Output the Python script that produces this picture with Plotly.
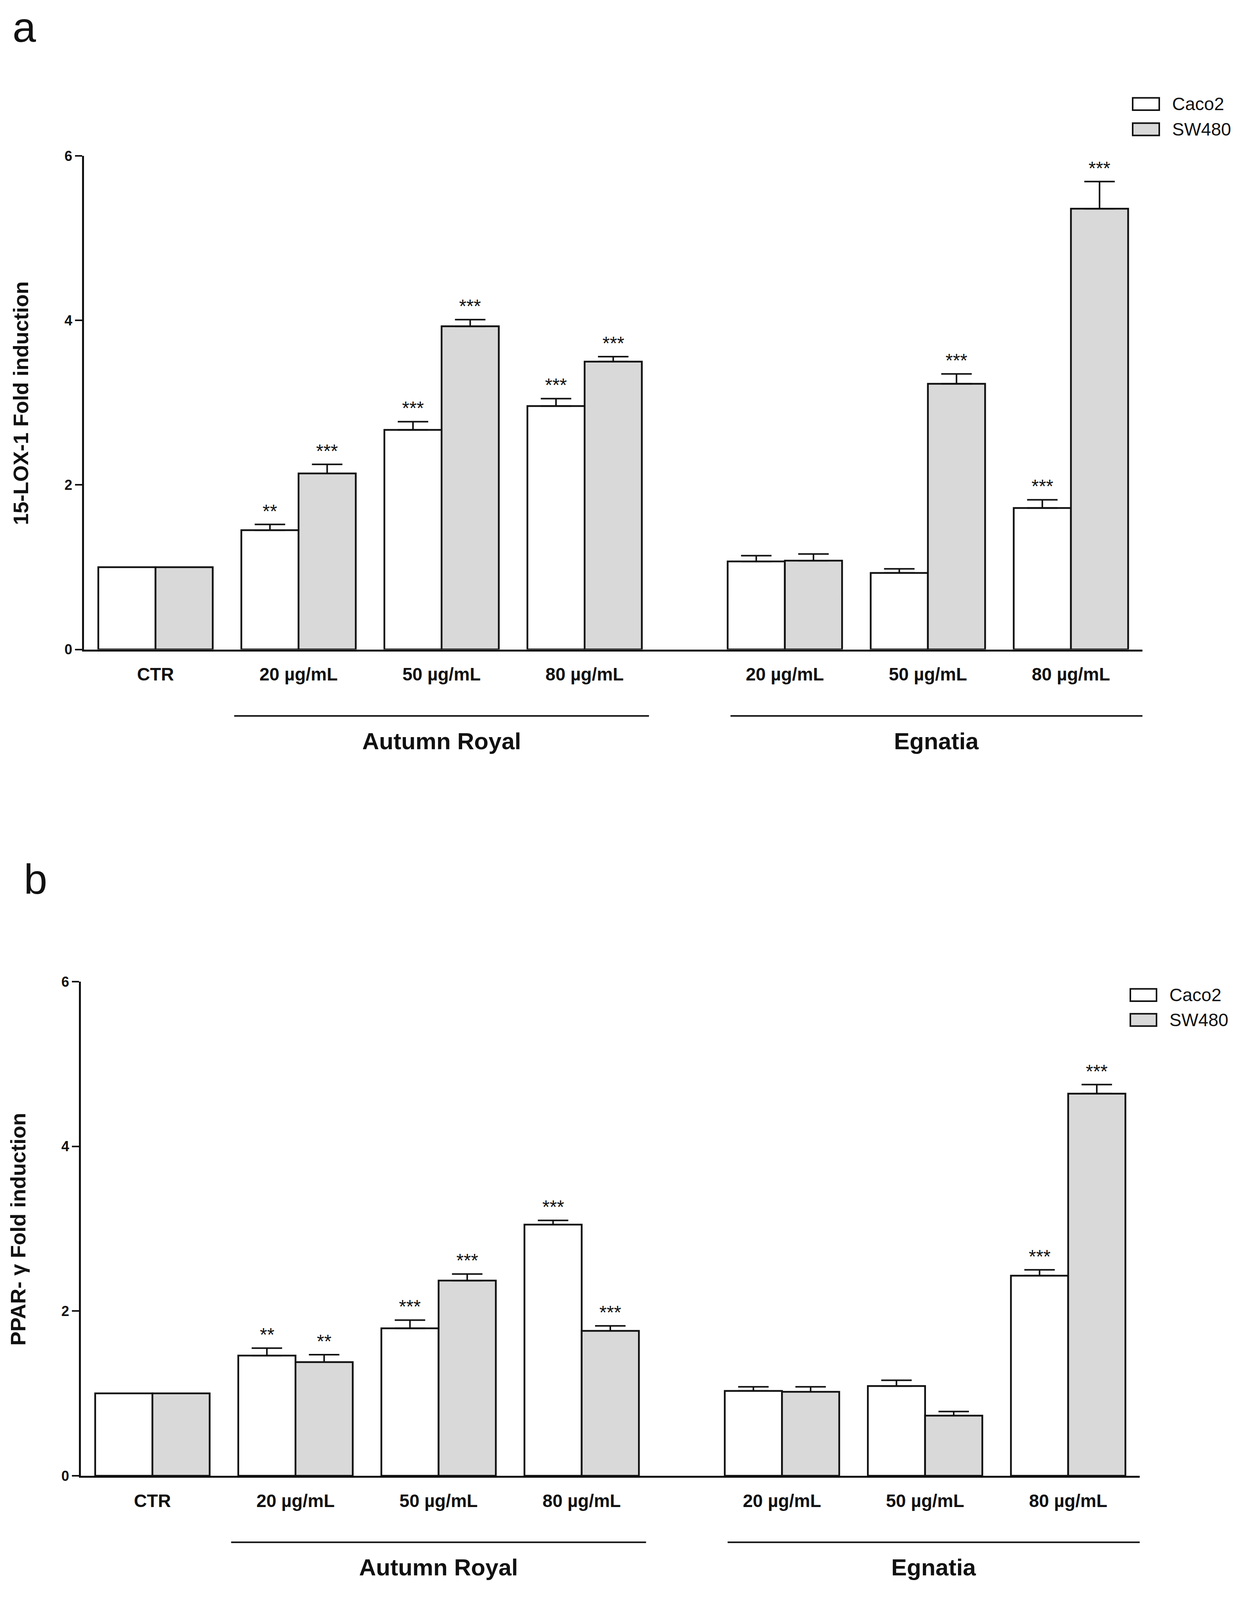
import plotly.graph_objects as go

FONT = "Liberation Sans, Arial, Helvetica, sans-serif"
W, H = 3166, 4382  # reference canvas used to express positions as fractions

# ---------------- data ----------------
categories = ["CTR", "20 µg/mL", "50 µg/mL", "80 µg/mL", "20 µg/mL", "50 µg/mL", "80 µg/mL"]
extract = ["", "Autumn Royal", "Autumn Royal", "Autumn Royal", "Egnatia", "Egnatia", "Egnatia"]
series_names = ["Caco2", "SW480"]

# Panel a: 15-LOX-1 fold induction
lox_caco2 = [1.00, 1.45, 2.67, 2.96, 1.07, 0.93, 1.72]
lox_caco2_err = [0.00, 0.07, 0.10, 0.09, 0.07, 0.05, 0.10]
lox_sw480 = [1.00, 2.14, 3.93, 3.50, 1.08, 3.23, 5.36]
lox_sw480_err = [0.00, 0.11, 0.08, 0.06, 0.08, 0.12, 0.33]
lox_caco2_sig = ["", "**", "***", "***", "", "", "***"]
lox_sw480_sig = ["", "***", "***", "***", "", "***", "***"]

# Panel b: PPAR-gamma fold induction
ppar_caco2 = [1.00, 1.46, 1.79, 3.05, 1.03, 1.09, 2.43]
ppar_caco2_err = [0.00, 0.09, 0.10, 0.05, 0.05, 0.07, 0.07]
ppar_sw480 = [1.00, 1.38, 2.37, 1.76, 1.02, 0.73, 4.64]
ppar_sw480_err = [0.00, 0.09, 0.08, 0.06, 0.06, 0.05, 0.11]
ppar_caco2_sig = ["", "**", "***", "***", "", "", "***"]
ppar_sw480_sig = ["", "**", "***", "***", "", "", "***"]

y_ticks = [0, 2, 4, 6]

# ---------------- layout helpers ----------------
GROUP_GAP = 0.4
positions = []
p = 0.0
for i, e in enumerate(extract):
    if i > 0 and extract[i - 1] != "" and e != extract[i - 1]:
        p += GROUP_GAP
    positions.append(p)
    p += 1.0

fills = ["#ffffff", "#d9d9d9"]
BAR_W = 0.4  # per-bar width in x units (bargap 0.2, 2 bars)


def px(x):
    return x / W


def py(y):
    return 1 - y / H


fig = go.Figure()

panels = [
    dict(xa="x", ya="y", vals=[lox_caco2, lox_sw480], errs=[lox_caco2_err, lox_sw480_err],
         sigs=[lox_caco2_sig, lox_sw480_sig]),
    dict(xa="x2", ya="y2", vals=[ppar_caco2, ppar_sw480], errs=[ppar_caco2_err, ppar_sw480_err],
         sigs=[ppar_caco2_sig, ppar_sw480_sig]),
]

for pi, pnl in enumerate(panels):
    for si, name in enumerate(series_names):
        fig.add_trace(go.Bar(
            x=positions, y=pnl["vals"][si], name=name,
            xaxis=pnl["xa"], yaxis=pnl["ya"],
            marker=dict(color=fills[si], line=dict(color="#111111", width=4.5)),
            error_y=dict(type="data", array=pnl["errs"][si],
                         arrayminus=[0] * len(positions), symmetric=False,
                         color="#111111", thickness=4, width=39),
            showlegend=False,
        ))
        off = (-BAR_W / 2) if si == 0 else (BAR_W / 2)
        for xi, v, e, s in zip(positions, pnl["vals"][si], pnl["errs"][si], pnl["sigs"][si]):
            if s:
                fig.add_annotation(x=xi + off, y=v + e, xref=pnl["xa"], yref=pnl["ya"],
                                   text=s, showarrow=False, yanchor="bottom", yshift=6,
                                   font=dict(family=FONT, size=48, color="#111111"))

axis_common_y = dict(range=[0, 6], tickvals=y_ticks, showgrid=False, zeroline=False,
                     showline=True, linewidth=4.5, linecolor="#111111", ticks="outside",
                     ticklen=18, tickwidth=4, tickcolor="#111111",
                     tickfont=dict(family=FONT, size=36, color="#111111", weight="bold"))
axis_common_x = dict(range=[-0.5, positions[-1] + 0.5], tickvals=positions, ticktext=categories,
                     showgrid=False, zeroline=False, showline=True, linewidth=4.5,
                     linecolor="#111111", ticks="", ticklabelstandoff=20,
                     tickfont=dict(family=FONT, size=46, color="#111111", weight="bold"))

# pixel geometry of the two panels: (axis left, axis right, y of value 0, y of value 6)
geo_a = (215, 2924, 1775, 410)
geo_b = (207, 2917, 4061, 2694)

fig.update_layout(
    autosize=True, margin=dict(l=0, r=0, t=0, b=0),
    paper_bgcolor="white", plot_bgcolor="white",
    barmode="group", bargap=0.2, bargroupgap=0.0,
    xaxis=dict(domain=[px(geo_a[0]), px(geo_a[1])], anchor="y", **axis_common_x),
    yaxis=dict(domain=[py(geo_a[2]), py(geo_a[3])], anchor="x", **axis_common_y),
    xaxis2=dict(domain=[px(geo_b[0]), px(geo_b[1])], anchor="y2", **axis_common_x),
    yaxis2=dict(domain=[py(geo_b[2]), py(geo_b[3])], anchor="x2", **axis_common_y),
)

# group brackets and labels
for (xa, geo) in [("x", geo_a), ("x2", geo_b)]:
    y0 = geo[2]
    for grp, lpad, rpad in [("Autumn Royal", 0.45, 0.45), ("Egnatia", 0.38, 0.5)]:
        idx = [i for i, e in enumerate(extract) if e == grp]
        x0 = positions[idx[0]] - lpad
        x1 = positions[idx[-1]] + rpad
        fig.add_shape(type="line", xref=xa, yref="paper", x0=x0, x1=x1,
                      y0=py(y0 + 184), y1=py(y0 + 184),
                      line=dict(color="#111111", width=4))
        fig.add_annotation(xref=xa, yref="paper", x=(x0 + x1) / 2, y=py(y0 + 254),
                           text=grp, showarrow=False, xanchor="center", yanchor="middle",
                           font=dict(family=FONT, size=60, color="#111111", weight="bold"))

# y-axis titles
fig.add_annotation(xref="paper", yref="paper", x=px(53), y=py(1094), text="15-LOX-1 Fold induction",
                   textangle=-90, showarrow=False, xanchor="center", yanchor="middle",
                   font=dict(family=FONT, size=54, color="#111111", weight="bold"))
fig.add_annotation(xref="paper", yref="paper", x=px(46), y=py(3379), text="PPAR- γ Fold induction",
                   textangle=-90, showarrow=False, xanchor="center", yanchor="middle",
                   font=dict(family=FONT, size=54, color="#111111", weight="bold"))

# panel letters
fig.add_annotation(xref="paper", yref="paper", x=px(30), y=py(53), text="a", showarrow=False,
                   xanchor="left", yanchor="middle",
                   font=dict(family=FONT, size=108, color="#111111"))
fig.add_annotation(xref="paper", yref="paper", x=px(59), y=py(2410), text="b", showarrow=False,
                   xanchor="left", yanchor="middle",
                   font=dict(family=FONT, size=108, color="#111111"))

# legends (drawn as boxes + text)
for (bx0, bx1, cys, tx) in [(2899, 2967, (266, 336), 2998), (2893, 2960, (2731, 2800), 2991)]:
    for name, fill, cy in zip(series_names, fills, cys):
        fig.add_shape(type="rect", xref="paper", yref="paper", x0=px(bx0), x1=px(bx1),
                      y0=py(cy + 17), y1=py(cy - 17), fillcolor=fill,
                      line=dict(color="#111111", width=4))
        fig.add_annotation(xref="paper", yref="paper", x=px(tx), y=py(cy), text=name,
                           showarrow=False, xanchor="left", yanchor="middle",
                           font=dict(family=FONT, size=46, color="#111111"))

fig.write_html(
    "out.html",
    default_width="100vw",
    default_height="100vh",
    config={"displayModeBar": False},
    post_script="document.body.style.margin='0';document.body.style.overflow='hidden';",
)
